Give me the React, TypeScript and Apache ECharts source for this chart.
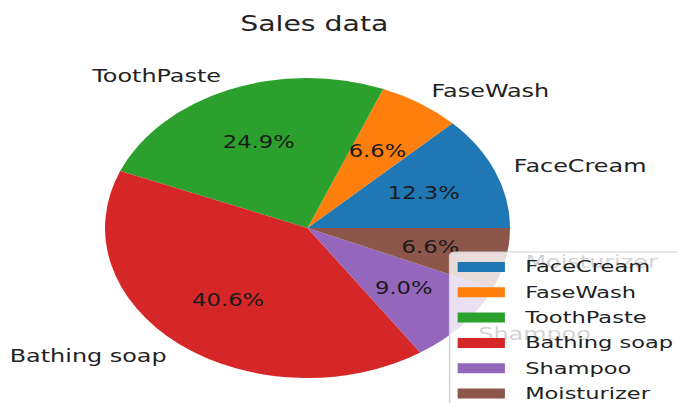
import React, { useEffect, useRef } from "react";
import * as echarts from "echarts";

const categories = ["FaceCream", "FaseWash", "ToothPaste", "Bathing soap", "Shampoo", "Moisturizer"];
const shares = [12.3, 6.6, 24.9, 40.6, 9.0, 6.6];
const colors = ["#1f77b4", "#ff7f0e", "#2ca02c", "#d62728", "#9467bd", "#8c564b"];
const titleText = "Sales data";

const SX = 1.35;
const W = 678 / SX;
const H = 403;
const CX = 227.8;
const CY = 228;
const R = 150;
const FONT = "DejaVu Sans";

export default function App() {
  const ref = useRef<HTMLDivElement>(null);
  useEffect(() => {
    if (!ref.current) return;
    const chart = echarts.init(ref.current, undefined, { renderer: "svg" });
    const data = categories.map((name, i) => ({
      name,
      value: shares[i],
      itemStyle: { color: colors[i] },
    }));
    chart.setOption({
      animation: false,
      backgroundColor: "#ffffff",
      title: {
        text: titleText,
        left: CX,
        top: 7,
        textAlign: "center",
        textStyle: { fontFamily: FONT, fontSize: 21, fontWeight: "normal", color: "#222", lineHeight: 23 },
      },
      legend: {
        orient: "vertical",
        left: 333,
        top: 252,
        height: 220,
        z: 10,
        data: categories,
        icon: "rect",
        itemWidth: 35,
        itemHeight: 10,
        itemGap: 7.3,
        padding: [6, 30, 20, 6],
        backgroundColor: "rgba(255,255,255,0.8)",
        borderColor: "#d0d0d0",
        borderWidth: 1,
        borderRadius: 4,
        textStyle: {
          fontFamily: FONT,
          fontSize: 16.7,
          color: "#222",
          lineHeight: 18,
          padding: [0, 0, 0, 10],
        },
      },
      series: [
        {
          type: "pie",
          center: [CX, CY],
          radius: [0, R],
          startAngle: 0,
          clockwise: false,
          avoidLabelOverlap: false,
          silent: true,
          data,
          label: {
            show: true,
            position: "outside",
            formatter: "{b}",
            fontFamily: FONT,
            fontSize: 17.7,
            color: "#222",
            distanceToLabelLine: 0,
          },
          labelLine: { show: false, length: 15, length2: 0 },
          emphasis: { disabled: true },
        },
        {
          type: "pie",
          center: [CX, CY],
          radius: [30, R],
          startAngle: 0,
          clockwise: false,
          avoidLabelOverlap: false,
          silent: true,
          percentPrecision: 1,
          data: categories.map((name, i) => ({ name, value: shares[i] })),
          itemStyle: { color: "rgba(0,0,0,0)" },
          label: {
            show: true,
            position: "inside",
            formatter: (p: any) => Number(p.percent).toFixed(1) + "%",
            fontFamily: FONT,
            fontSize: 16.8,
            color: "#1a1a1a",
          },
          labelLine: { show: false },
          emphasis: { disabled: true },
        },
      ],
    });
    return () => chart.dispose();
  }, []);
  return (
    <div
      ref={ref}
      style={{
        position: "fixed",
        left: 0,
        top: 0,
        width: W,
        height: H,
        transform: `scaleX(${SX})`,
        transformOrigin: "0 0",
      }}
    />
  );
}
